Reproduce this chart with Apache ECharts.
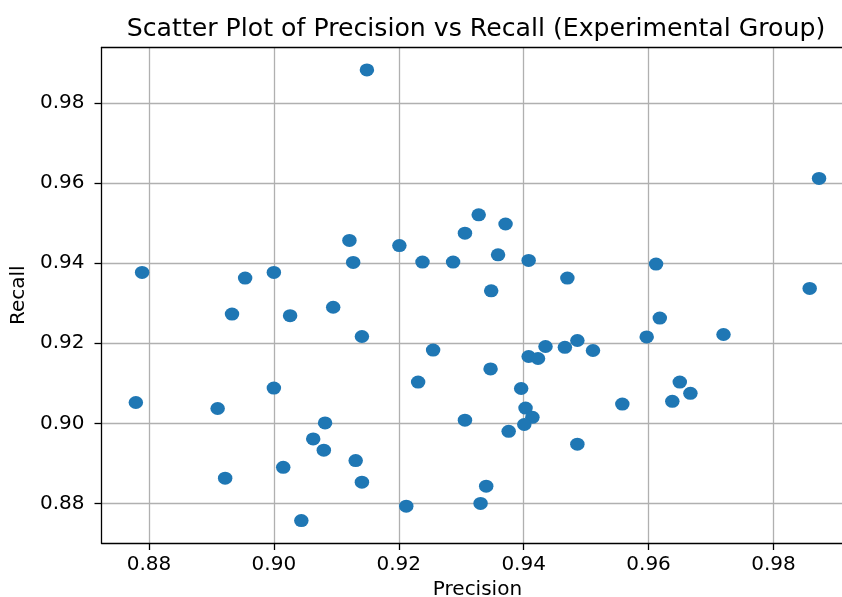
<!DOCTYPE html>
<html>
<head>
<meta charset="utf-8">
<script src="https://cdn.jsdelivr.net/npm/echarts@6/dist/echarts.min.js"></script>
<style>
html,body{margin:0;padding:0;background:#fff;overflow:hidden;}
#chart{width:842px;height:597px;}
</style>
</head>
<body>
<div id="chart"></div>
<script>
var titleText = 'Scatter Plot of Precision vs Recall (Experimental Group)';
var xName = 'Precision';
var yName = 'Recall';
var xTicks = [0.88, 0.90, 0.92, 0.94, 0.96, 0.98];
var yTicks = [0.88, 0.90, 0.92, 0.94, 0.96, 0.98];
var precision = [
  0.8789, 0.8954, 0.9000, 0.9121, 0.9127, 0.9149, 0.9201, 0.9238, 0.9287, 0.9306,
  0.9328, 0.9371, 0.9359, 0.9408, 0.9348, 0.9470, 0.9612, 0.9873, 0.9858, 0.8933,
  0.9026, 0.9095, 0.8779, 0.8910, 0.9000, 0.9082, 0.9063, 0.9080, 0.9015, 0.8922,
  0.9044, 0.9141, 0.9255, 0.9231, 0.9347, 0.9408, 0.9423, 0.9435, 0.9466, 0.9486,
  0.9396, 0.9403, 0.9414, 0.9401, 0.9376, 0.9306, 0.9486, 0.9131, 0.9141, 0.9212,
  0.9340, 0.9331, 0.9618, 0.9597, 0.9720, 0.9511, 0.9650, 0.9667, 0.9638, 0.9558
];
var recall = [
  0.9377, 0.9363, 0.9377, 0.9457, 0.9402, 0.9883, 0.9444, 0.9403, 0.9403, 0.9475,
  0.9521, 0.9498, 0.9421, 0.9407, 0.9331, 0.9363, 0.9398, 0.9612, 0.9337, 0.9273,
  0.9269, 0.9290, 0.9052, 0.9037, 0.9088, 0.9001, 0.8961, 0.8933, 0.8890, 0.8863,
  0.8757, 0.9217, 0.9183, 0.9103, 0.9136, 0.9167, 0.9162, 0.9192, 0.9190, 0.9207,
  0.9087, 0.9038, 0.9015, 0.8997, 0.8980, 0.9008, 0.8948, 0.8907, 0.8853, 0.8793,
  0.8843, 0.8800, 0.9263, 0.9216, 0.9222, 0.9182, 0.9103, 0.9075, 0.9055, 0.9048
];

var points = precision.map(function (p, i) { return [p, recall[i]]; });
var FONT = 'DejaVu Sans';
var ellipse = 'path://M0 50A50 50 0 1 1 100 50A50 50 0 1 1 0 50Z';
var X_MIN = 0.8724, X_MAX = 0.9928, Y_MIN = 0.8701, Y_MAX = 0.9939;

var chart = echarts.init(document.getElementById('chart'), null, {renderer: 'canvas'});
chart.setOption({
  animation: false,
  backgroundColor: '#ffffff',
  title: {
    text: titleText,
    left: 471,
    top: 12,
    textAlign: 'center',
    textStyle: {fontFamily: FONT, fontSize: 25.2, fontWeight: 'normal', color: '#000'}
  },
  grid: {
    left: 101.5, right: -11.4, top: 47.5, bottom: 54,
    outerBoundsMode: 'none',
    containLabel: false,
    show: false
  },
  xAxis: [{
    type: 'value',
    min: X_MIN, max: X_MAX,
    name: xName, nameLocation: 'middle', nameGap: 37,
    nameTextStyle: {fontFamily: FONT, fontSize: 20, color: '#000'},
    axisLine: {show: true, onZero: false, lineStyle: {color: '#000', width: 1.3}},
    axisTick: {show: true, inside: false, length: 7, lineStyle: {color: '#000', width: 1.3}, customValues: xTicks},
    axisLabel: {fontFamily: FONT, fontSize: 20, color: '#000', margin: 12, customValues: xTicks,
      formatter: function (v) { return v.toFixed(2); }},
    splitLine: {show: true, lineStyle: {color: '#b0b0b0', width: 1.3}}
  }, {
    type: 'value',
    position: 'top',
    min: X_MIN, max: X_MAX,
    axisLine: {show: true, onZero: false, lineStyle: {color: '#000', width: 1.3}},
    axisTick: {show: false},
    axisLabel: {show: false},
    splitLine: {show: false}
  }],
  yAxis: {
    type: 'value',
    min: Y_MIN, max: Y_MAX,
    name: yName, nameLocation: 'middle', nameGap: 72, nameRotate: 90,
    nameTextStyle: {fontFamily: FONT, fontSize: 20, color: '#000'},
    axisLine: {show: true, onZero: false, lineStyle: {color: '#000', width: 1.3}},
    axisTick: {show: true, inside: false, length: 7, lineStyle: {color: '#000', width: 1.3}, customValues: yTicks},
    axisLabel: {fontFamily: FONT, fontSize: 20, color: '#000', margin: 17, customValues: yTicks,
      formatter: function (v) { return v.toFixed(2); }},
    splitLine: {show: true, lineStyle: {color: '#b0b0b0', width: 1.3}}
  },
  series: [{
    type: 'scatter',
    xAxisIndex: 0,
    data: points,
    symbol: ellipse,
    symbolSize: [14.5, 13],
    itemStyle: {color: '#1f77b4', opacity: 1},
    emphasis: {disabled: true}
  }]
});
</script>
</body>
</html>
